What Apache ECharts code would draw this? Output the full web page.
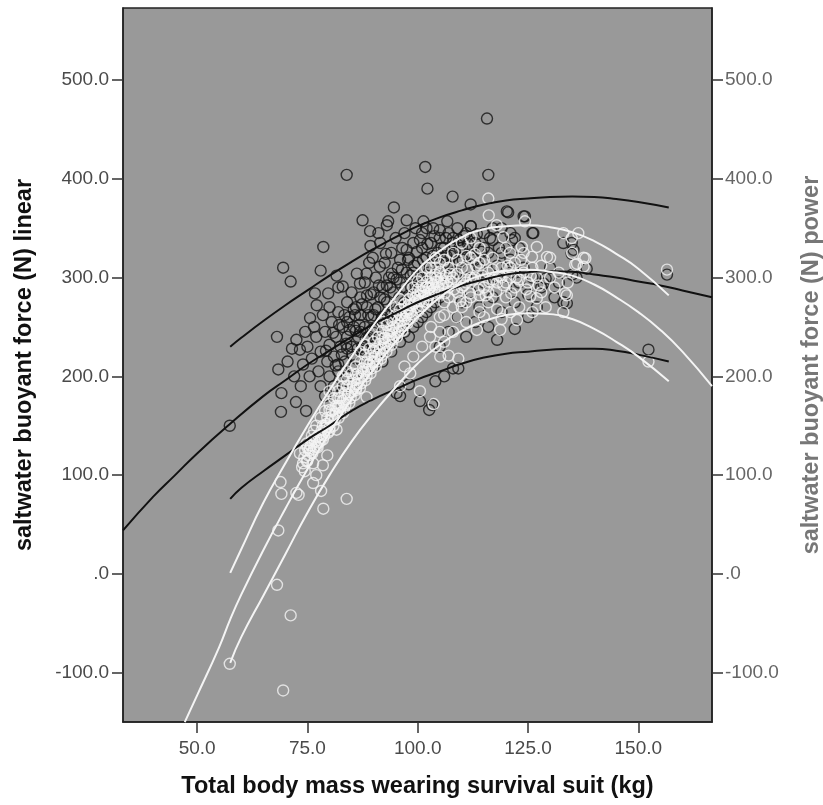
<!DOCTYPE html>
<html>
<head>
<meta charset="utf-8">
<title>saltwater buoyant force</title>
<script src="https://cdn.jsdelivr.net/npm/echarts@6.0.0/dist/echarts.min.js"></script>
<style>
  html, body { margin: 0; padding: 0; background: #fff; }
  #chart { width: 823px; height: 805px; }
</style>
</head>
<body>
<div id="chart"></div>
<script>
// tick labels
const xTicks = [50, 75, 100, 125, 150];
const yTicks = [-100, 0, 100, 200, 300, 400, 500];

// observed points, linear estimate (black)
const linearPoints = [
  [57.4,150],[68.1,240],[68.4,207],[69.1,183],[69,164],[69.5,310],[71.2,296],[72.4,174],[74.7,165],[72.5,237],
  [73.3,227],[75.6,259],[77.1,272],[76.7,284],[79.7,284],[78.6,331],[78,307],[81.6,302],[83,291],[83.9,404],
  [87.5,358],[89.2,347],[91.1,345],[93,353],[93.3,357],[94.6,371],[97.5,358],[89.3,332],[89.8,320],[92.8,324],
  [86.2,304],[88.4,304],[91.4,311],[94.1,304],[86.9,294],[70.5,215],[71.5,228],[72,200],[73.5,190],[74,212],
  [74.5,245],[75,230],[75.5,200],[76,218],[76.5,250],[77,240],[77.5,205],[78,225],[78.5,262],[79,245],
  [79.5,215],[80,232],[80,270],[80.5,255],[81,220],[81.5,240],[82,265],[82,290],[82.5,230],[83,250],
  [83.5,215],[84,275],[84,240],[84.5,260],[85,230],[85,285],[85.5,250],[86,218],[86,270],[86.5,240],
  [87,262],[87,280],[87.5,230],[88,250],[88,295],[88.5,270],[89,240],[89,315],[89.5,260],[90,285],
  [90,230],[90.5,300],[91,250],[91,270],[91.5,335],[92,290],[92,260],[92.5,315],[93,240],[93,275],
  [93.5,300],[94,325],[94,255],[94.5,285],[95,340],[95,265],[95.5,310],[96,295],[96,250],[96.5,330],
  [97,275],[97,345],[97.5,305],[98,260],[98,320],[98.5,290],[99,335],[99,270],[99.5,350],[100,300],
  [100,315],[100.5,280],[101,330],[101,345],[101.5,295],[102,320],[102.5,305],[103,335],[103,290],[103.5,350],
  [104,310],[104.5,325],[105,340],[105,300],[106,330],[106,315],[107,345],[107.5,322],[108,305],[108,335],
  [109,350],[109.5,315],[110,330],[110.5,342],[111,300],[112,322],[112,352],[113,335],[114,310],[115,345],
  [116,325],[117,338],[118,312],[119,350],[120,330],[120.5,366],[121,318],[122,340],[124,362],[126,345],
  [95.2,183],[96,180],[98,192],[100.5,175],[102.6,166],[103.3,171],[104,195],[106,200],[108,208],[109.2,208],
  [105,230],[107,245],[109,260],[110,275],[111,240],[112,285],[113,255],[114,270],[115,295],[116,250],
  [117,280],[118,237],[118,300],[119,265],[120,290],[121,305],[122,248],[122,275],[123,295],[124,310],
  [125,260],[125,283],[126,300],[127,270],[128,290],[129,299],[130,310],[131,280],[132,295],[133,275],
  [133.8,274],[135,303],[135.3,328],[134.9,335],[133,335],[134.9,324],[136,300],[138.3,309],[128.5,294],[126.2,345],
  [120.2,367],[124.3,362],[112,374],[107.9,382],[116,404],[115.7,461],[101.7,412],[102.2,390],[106.7,357],[112,352],
  [101.3,357],[152.3,227],[156.5,303],
  [78,190],[79,180],[80,200],[81,190],[82,205],[83,185],[84,200],[85,210],[86,195],[87,215],
  [88,205],[89,220],[90,210],[91,225],[92,215],[93,230],[94,225],[95,240],[96,235],[97,245],
  [98,240],[99,250],[100,255],[101,260],[102,265],[103,270],[104,275],[105,280],
  [79.2,226],[80.8,244],[81.4,211],[82.2,252],[82.8,222],[83.4,262],[83.8,233],[84.6,247],[85.2,222],[85.8,262],
  [86.4,228],[86.8,252],[87.4,273],[88.2,238],[88.8,262],[89.4,283],[89.8,248],[90.4,268],[91.2,292],[91.8,258],
  [92.4,278],[93.2,262],[93.8,290],[94.4,270],[95.2,298],[95.8,280],[96.4,308],[97.2,290],[97.8,318],[98.4,302],
  [99.2,312],[99.8,326],[100.4,292],[101.2,318],[102.2,334],[102.8,312],[103.8,342],[104.2,318],[105.4,330],[106.4,340],
  [107.2,312],[108.4,326],[109.4,338],[110.2,318],[111.4,334],[113.4,344],[114.4,326],[116.4,340],[118.4,330],[121.4,338],
  [84,255],[85.5,268],[87,245],[88.5,282],[90,262],[91.5,280],[93,292],[94.5,300],[96,318],[97.5,328],
  [99,305],[100.5,338],[102,350],[103.5,322],[105,348],[106.5,322],[108,340],[109.5,330],[111,345],[113,318],
  [115,330],[117,350],[119,325],[121,345],[123,330],[82,212],[84,228],[86,246],[88,226],[90,244],
  [92,236],[94,262],[96,270],[98,282],[100,290]
];

// observed points, power estimate (white)
const powerPoints = [
  [57.4,-91],[69.5,-118],[68.1,-11],[71.2,-42],[68.4,44],[69.1,81],[68.9,93],[72.5,82],[73,80],[78.6,66],
  [83.9,76],[78.1,84],[76.3,92],[74.4,104],[73.3,122],[74.8,132],[77.1,129],[81.6,146],[83.1,163],[88.4,179],
  [76.3,112],[75,115],[73.8,108],[75.5,125],[76,140],[78,135],[79,150],[80,145],[79.5,120],[78.5,110],
  [77,100],[75,128],[76,135],[76.5,145],[77,150],[77.5,140],[78,158],[78.5,150],[79,165],[79.5,158],
  [80,172],[80.5,165],[81,178],[81.5,170],[82,185],[82.5,178],[83,190],[83.5,183],[84,197],[84.5,190],
  [85,203],[85.5,196],[86,210],[86.5,203],[87,215],[87.5,208],[88,222],[88.5,215],[89,228],[89.5,221],
  [90,235],[90.5,228],[91,240],[91.5,233],[92,246],[92.5,239],[93,252],[93.5,245],[94,257],[94.5,250],
  [95,262],[95.5,256],[96,268],[96.5,261],[97,273],[97.5,266],[98,278],[98.5,272],[99,283],[99.5,276],
  [100,288],[100.5,281],[101,292],[101.5,285],[102,296],[102.5,289],[103,300],[103.5,292],[104,303],[104.5,296],
  [105,306],[80,185],[82,170],[84,205],[86,188],[88,232],[90,215],[92,255],[94,238],[96,278],
  [98,258],[100,296],[102,275],[104,310],[83,200],[87,225],[91,250],[95,270],[99,290],[103,285],
  [96,190],[100.5,185],[103.6,172],[98.3,203],[105.1,220],[107,221],[109.2,218],[102.8,240],[108.8,260],[113.4,247],
  [118.7,247],[122.5,257],[125.5,281],[127,279],[133.8,282],[136.1,314],[137.6,320],[133,345],[136.4,345],[135.7,313],
  [137.6,311],[134.9,340],[124.3,357],[117.9,353],[119.4,341],[120.9,325],[123.6,331],[127,331],[125.9,321],[129.3,321],
  [133.4,284],[116,380],[116.1,363],[152.3,215],[156.5,308],[138,319.5],
  [105,260],[106,275],[107,290],[108,300],[109,285],[110,270],[110,310],[111,295],[112,280],[112,320],
  [113,300],[114,265],[114,315],[115,290],[116,305],[116,275],[117,320],[118,295],[118,268],[119,310],
  [120,280],[120,330],[121,300],[122,290],[122,315],[123,270],[124,305],[124,325],[125,295],[126,310],
  [127,300],[128,285],[128,312],[129,270],[130,300],[130,320],[131,290],[132,305],[133,265],[134,295],
  [135,325],[105,245],[106,235],[108,245],[111,255],[115,260],[119,258],[121,265],[126,265],[104,230],
  [103,250],[101,230],[99,220],[97,210],[106,318],[108,325],[110,335],[112,340],[114,330],[104,320],
  [102,310],
  [74,112],[74.5,125],[75.2,120],[75.8,130],[76.4,126],[77,138],[77.6,133],[78.2,145],[78.8,140],[79.4,152],
  [80,148],[80.6,160],[81.2,156],[81.8,168],[82.4,163],[83,175],[83.6,171],[84.2,182],[84.8,178],[85.4,190],
  [86,186],[86.6,198],[87.2,193],[87.8,205],[88.4,200],[89,212],[89.6,208],[90.2,220],[90.8,215],[91.4,227],
  [92,222],[92.6,234],[93.2,230],[93.8,242],[94.4,237],[95,249],[95.6,244],[96.2,256],[96.8,251],[97.4,262],
  [98,268],[98.6,263],[99.2,274],[99.8,270],[100.4,276],[101,271],[101.6,282],[102.2,278],[102.8,290],[103.4,284],
  [104,296],[104.6,290],[105.2,299],[105.8,294],[106.4,302],[107,280],[107.6,296],[108.2,288],[109,304],[109.6,276],
  [110.4,292],[111.2,308],[111.8,284],[112.6,298],[113.2,312],[113.8,288],[114.6,302],[115.4,282],[116.2,296],[117,308],
  [117.8,286],[118.6,302],[119.4,292],[120.4,312],[121.2,284],[122.4,300],[123.4,318],[124.6,288],[125.6,302],[127.4,292],
  [74.3,118],[74.9,114],[75.5,127],[76.1,122],[76.7,134],[77.3,128],[77.9,141],[78.5,136],[79.1,148],[79.7,143],
  [80.3,155],[80.9,150],[81.5,162],[82.1,158],[82.7,170],[83.3,166],[83.9,177],[84.5,173],[85.1,184],[85.7,181],
  [86.3,192],[86.9,188],[87.5,200],[88.1,196],[88.7,207],[89.3,203],[89.9,214],[90.5,210],[91.1,222],[91.7,218],
  [92.3,229],[92.9,225],[93.5,236],[94.1,232],[94.7,244],[95.3,240],[95.9,251],[96.5,246],[97.1,258],[97.7,254],
  [98.3,265],[98.9,260],[99.5,280],[100.1,266],[100.7,286],[101.3,276],[101.9,290],[102.5,282],[103.1,294],[103.7,288],
  [104.3,300],[104.9,285],[105.5,292],[106.1,284],[106.7,296],[107.3,304],[96,262],[94,246],[92,238],[90,226],
  [88,214],[86,202],[84,190],[82,178],[80,166],[98,272],[100,282],
  [101,300],[103,310],[105,315],[107,310],[109,318],[111,322],[113,324],[115,318],[117,298],[119,300],
  [121,310],[123,298],[110,290],[112,300],[114,282],[108,270],[106,262],[111,275],[116,285],[120,295]
];

// fitted curves
const boundX = [57.5,60,65,70,75,80,85,90,95,100,105,110,115,120,125,130,135,140,145,150,156.9];
const linearUpper = [230,239,256,272,287,302,316,329,341,352,361,368,374,378,380,381.5,382,381.5,379.5,376.5,371];
const linearLower = [76,87,104,120,136,150,165,177,187,197,205,213,219,223,225,227,228,228,226,222,215];
const powerUpper = [1,25,72,112,150,186,220,252,281,308,327,341,349,352,353,351,346,337,324,309,282];
const powerLower = [-90,-64,-22,20,62,100,134,163,189,213,232,246,256,262,264,263,258,248,235,220,195];

const linearFitX = [33.2,40,45,50,57.5,65,70,75,80,85,90,95,100,105,110,115,120,125,130,135,140,145,150,155,160,166.7];
const linearFit = [44,78,100,122,152,180,196,212,226,240,253,264,275,284,292,298,303,305.5,306.5,306,303,300,296,292,287,280];
const powerFitX = [47.2,50,55,57.5,60,65,70,75,80,85,90,95,100,105,110,115,120,125,130,135,140,145,150,155,160,166.7];
const powerFit = [-150,-123,-74,-46,-21,24,66,106,143,177,207,235,260,280,294,303,307,308,306,302,293,280,265,247,225,190];

const zip = (xs, ys) => xs.map((x, i) => [x, ys[i]]);
const fmt = v => (v === 0 ? '.0' : v.toFixed(1));

const chart = echarts.init(document.getElementById('chart'));

const yAxisBase = {
  type: 'value',
  min: -149.9,
  max: 572.9,
  splitLine: { show: false },
  axisLine: { show: true, lineStyle: { color: '#222', width: 1.5 } },
  axisTick: { show: true, length: 11, customValues: yTicks, lineStyle: { color: '#333', width: 1.5 } },
  nameLocation: 'middle',
  nameTextStyle: { fontFamily: 'Liberation Sans', fontWeight: 'bold', fontSize: 23.5 }
};

const circle = color => ({
  type: 'scatter',
  symbol: 'circle',
  symbolSize: 11,
  itemStyle: { color: 'rgba(0,0,0,0)', borderColor: color, borderWidth: 1.4 },
  emphasis: { disabled: true },
  animation: false
});

const curve = (color, data, yIndex) => ({
  type: 'line',
  data: data,
  yAxisIndex: yIndex,
  smooth: true,
  showSymbol: false,
  lineStyle: { color: color, width: 2 },
  animation: false
});

const option = {
  backgroundColor: '#fff',
  grid: {
    left: 123, top: 8, width: 589, height: 714,
    outerBoundsMode: 'none',
    containLabel: false,
    show: true, backgroundColor: '#999999', borderColor: '#222', borderWidth: 1.5
  },
  xAxis: {
    type: 'value',
    min: 33.2,
    max: 166.7,
    splitLine: { show: false },
    axisLine: { show: true, onZero: false, lineStyle: { color: '#222', width: 1.5 } },
    axisTick: { show: true, length: 11, customValues: xTicks, lineStyle: { color: '#333', width: 1.5 } },
    axisLabel: {
      customValues: xTicks, formatter: fmt, margin: 17,
      color: '#4a4a4a', fontFamily: 'Liberation Sans', fontSize: 19
    },
    name: 'Total body mass wearing survival suit (kg)',
    nameLocation: 'middle',
    nameGap: 53,
    nameTextStyle: { color: '#111', fontFamily: 'Liberation Sans', fontWeight: 'bold', fontSize: 23.5 }
  },
  yAxis: [
    Object.assign({}, yAxisBase, {
      position: 'left',
      name: 'saltwater buoyant force (N) linear',
      nameGap: 86,
      nameTextStyle: Object.assign({}, yAxisBase.nameTextStyle, { color: '#111' }),
      axisLabel: {
        customValues: yTicks, formatter: fmt, margin: 14,
        color: '#4a4a4a', fontFamily: 'Liberation Sans', fontSize: 19
      }
    }),
    Object.assign({}, yAxisBase, {
      position: 'right',
      name: 'saltwater buoyant force (N) power',
      nameGap: 88,
      nameTextStyle: Object.assign({}, yAxisBase.nameTextStyle, { color: '#777' }),
      axisLabel: {
        customValues: yTicks, formatter: fmt, margin: 13,
        color: '#666', fontFamily: 'Liberation Sans', fontSize: 19
      }
    })
  ],
  series: [
    Object.assign(circle('#141414'), { name: 'linear', yAxisIndex: 0, data: linearPoints }),
    curve('#111', zip(linearFitX, linearFit), 0),
    curve('#111', zip(boundX, linearUpper), 0),
    curve('#111', zip(boundX, linearLower), 0),
    Object.assign(circle('#f4f4f4'), { name: 'power', yAxisIndex: 1, data: powerPoints }),
    curve('#f4f4f4', zip(powerFitX, powerFit), 1),
    curve('#f4f4f4', zip(boundX, powerUpper), 1),
    curve('#f4f4f4', zip(boundX, powerLower), 1)
  ]
};

chart.setOption(option);
</script>
</body>
</html>
